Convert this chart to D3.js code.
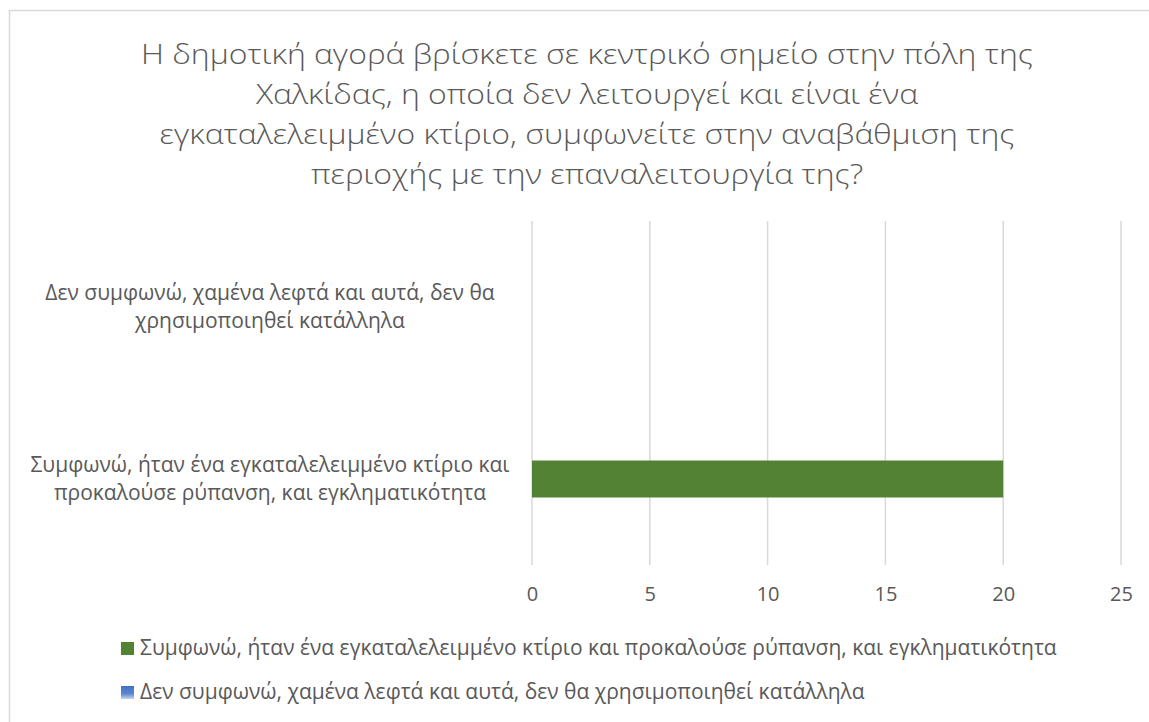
<!DOCTYPE html>
<html>
<head>
<meta charset="UTF-8">
<title>Δημοτική αγορά</title>
<script src="https://d3js.org/d3.v7.min.js"></script>
<style>
  body { margin: 0; background: #fff; }
  svg { display: block; }
  text { font-family: "Open Sans", sans-serif; fill: #595959; }
</style>
</head>
<body>
<script>
// data
var categories = [
  "Συμφωνώ, ήταν ένα εγκαταλελειμμένο κτίριο και προκαλούσε ρύπανση, και εγκληματικότητα",
  "Δεν συμφωνώ, χαμένα λεφτά και αυτά, δεν θα χρησιμοποιηθεί κατάλληλα"
];
var values = [20, 0];
var colors = ["#548235", "#4472c4"];
var xTicks = [0, 5, 10, 15, 20, 25];
var titleLines = [
  "Η δημοτική αγορά βρίσκετε σε κεντρικό σημείο στην πόλη της",
  "Χαλκίδας, η οποία δεν λειτουργεί και είναι ένα",
  "εγκαταλελειμμένο κτίριο, συμφωνείτε στην αναβάθμιση της",
  "περιοχής με την επαναλειτουργία της?"
];

var W = 1149, H = 722;
var svg = d3.select("body").append("svg").attr("width", W).attr("height", H);

var defs = svg.append("defs");
var grad = defs.append("linearGradient").attr("id", "blueg")
  .attr("x1", 0).attr("y1", 0).attr("x2", 0).attr("y2", 1);
grad.append("stop").attr("offset", "0%").attr("stop-color", "#4472c4");
grad.append("stop").attr("offset", "60%").attr("stop-color", "#5b86d0");
grad.append("stop").attr("offset", "100%").attr("stop-color", "#c9d6ee");

// chart border
svg.append("rect").attr("x", 9.5).attr("y", 10.5).attr("width", W + 20).attr("height", H + 20)
  .attr("fill", "none").attr("stroke", "#d9d9d9").attr("stroke-width", 1.5);

// title (narrow font look -> squeeze horizontally)
var title = svg.append("g").attr("transform", "translate(587,0)");
var tl = title.selectAll("text").data(titleLines).enter().append("text")
  .attr("text-anchor", "middle")
  .attr("y", function (d, i) { return 64 + i * 40; })
  .style("font-weight", 300)
  .style("font-size", "28px")
  .text(function (d) { return d; });
var w0 = tl.node().getComputedTextLength();
var k = 892 / w0;
tl.attr("transform", "scale(" + k + ",1)");

// plot
var x = d3.scaleLinear().domain([0, 25]).range([532, 1121]);
var y = d3.scaleBand().domain(categories.slice().reverse()).range([221, 565])
  .paddingInner(0.785).paddingOuter(0.785 / 2);

svg.append("g").selectAll("line").data(xTicks).enter().append("line")
  .attr("x1", function (d) { return x(d); }).attr("x2", function (d) { return x(d); })
  .attr("y1", 221).attr("y2", 565)
  .attr("stroke", "#d9d9d9").attr("stroke-width", 1.5);

svg.append("g").selectAll("rect").data(categories).enter().append("rect")
  .attr("x", x(0))
  .attr("y", function (d) { return y(d); })
  .attr("width", function (d, i) { return x(values[i]) - x(0); })
  .attr("height", y.bandwidth())
  .attr("fill", function (d, i) { return colors[i]; });

// x axis tick labels
var xAxis = svg.append("g").attr("transform", "translate(0,565)")
  .call(d3.axisBottom(x).tickValues(xTicks).tickSize(0).tickPadding(22));
xAxis.select(".domain").remove();
xAxis.selectAll("text").style("font-size", "20px").style("fill", "#595959")
  .style("font-family", "'Open Sans', sans-serif");

// category labels, wrapped
var FS = 21;
function wrap(str, maxW, sel) {
  var words = str.split(" "), lines = [], cur = "";
  var probe = sel.append("text").style("font-size", FS + "px");
  words.forEach(function (w) {
    var t = cur ? cur + " " + w : w;
    probe.text(t);
    if (probe.node().getComputedTextLength() > maxW && cur) { lines.push(cur); cur = w; }
    else cur = t;
  });
  lines.push(cur);
  probe.remove();
  return lines;
}
var yl = svg.append("g");
categories.forEach(function (c) {
  var lines = wrap(c, 500, yl);
  var cy = y(c) + y.bandwidth() / 2;
  var t = yl.append("text").attr("text-anchor", "middle").style("font-size", FS + "px");
  lines.forEach(function (ln, i) {
    t.append("tspan").attr("x", 270)
      .attr("y", cy + (i - (lines.length - 1) / 2) * 28 + 7)
      .text(ln);
  });
});

// legend
var lg = svg.append("g").selectAll("g").data(categories).enter().append("g")
  .attr("transform", function (d, i) { return "translate(121," + (642 + i * 44) + ")"; });
lg.append("rect").attr("width", 13).attr("height", 13)
  .attr("fill", function (d, i) { return i === 1 ? "url(#blueg)" : colors[i]; });
lg.append("text").attr("x", 19).attr("y", 13).style("font-size", FS + "px")
  .text(function (d) { return d; });
</script>
</body>
</html>
